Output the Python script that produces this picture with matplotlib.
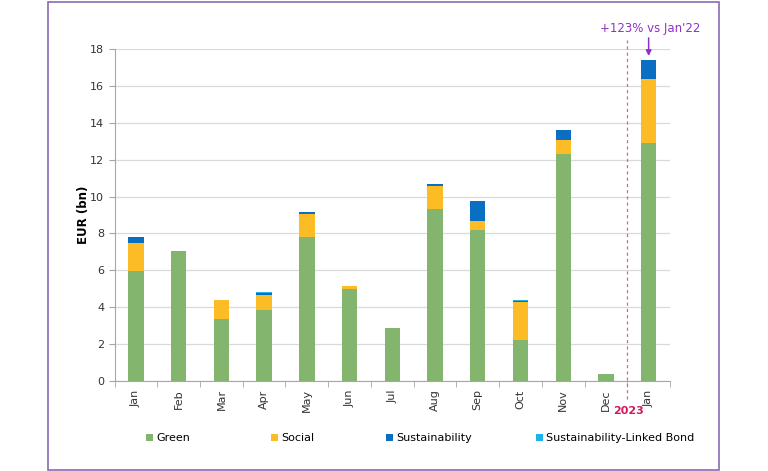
import matplotlib
matplotlib.use("Agg")
import matplotlib.pyplot as plt
import matplotlib.patches as mpatches
import numpy as np

# data (EUR bn)
months = ["Jan", "Feb", "Mar", "Apr", "May", "Jun", "Jul", "Aug", "Sep", "Oct", "Nov", "Dec", "Jan"]
green = [5.95, 7.05, 3.37, 3.85, 7.83, 4.97, 2.87, 9.35, 8.2, 2.23, 12.33, 0.4, 12.93]
social = [1.55, 0.0, 1.0, 0.82, 1.25, 0.2, 0.0, 1.22, 0.5, 2.05, 0.76, 0.0, 3.47]
sustainability = [0.3, 0.0, 0.0, 0.1, 0.07, 0.0, 0.0, 0.1, 1.05, 0.04, 0.5, 0.0, 1.0]
slb = [0.0, 0.0, 0.0, 0.03, 0.0, 0.0, 0.0, 0.02, 0.0, 0.05, 0.02, 0.0, 0.0]
series_names = ["Green", "Social", "Sustainability", "Sustainability-Linked Bond"]
annotation = "+123% vs Jan'22"
year_label = "2023"

colors = ["#84b56e", "#fbbc25", "#0a6fc2", "#1fb1ea"]

fig = plt.figure(figsize=(7.68, 4.71), dpi=100)
ax_left, ax_right, ax_bottom, ax_top = 114.6, 670, 381, 49
ax = fig.add_axes([ax_left / 768, 1 - ax_bottom / 471,
                   (ax_right - ax_left) / 768, (ax_bottom - ax_top) / 471])

x = np.arange(len(months))
bottom = np.zeros(len(months))
handles = []
for vals, col, name in zip([green, social, sustainability, slb], colors, series_names):
    b = ax.bar(x, vals, width=0.36, bottom=bottom, color=col, label=name, zorder=3)
    bottom += np.array(vals)
    handles.append(b)

ax.set_xlim(-0.5, len(months) - 0.5)
ax.set_ylim(0, 18)
ax.set_yticks(np.arange(0, 19, 2))
ax.yaxis.grid(True, color="#d9d9d9", linewidth=0.9, zorder=0)
ax.set_axisbelow(True)

ax.set_xticks(x)
ax.set_xticklabels(months, rotation=90, fontsize=8, color="#333333")
ax.set_xticks(np.arange(-0.5, len(months), 1.0), minor=True)
ax.tick_params(axis="x", which="major", length=0, pad=6)
ax.tick_params(axis="x", which="minor", length=4, color="#a6a6a6")
ax.tick_params(axis="y", labelsize=8, length=4, color="#a6a6a6", labelcolor="#333333")

for s in ["top", "right"]:
    ax.spines[s].set_visible(False)
for s in ["left", "bottom"]:
    ax.spines[s].set_color("#a6a6a6")

ax.set_ylabel("EUR (bn)", fontsize=8.5, fontweight="bold")
ax.yaxis.set_label_coords(-0.044, 0.5)

# 2023 divider
ax.plot([11.5, 11.5], [-0.95, 18.5], linestyle=(0, (2.5, 2.5)), color="#e35aa5",
        linewidth=0.9, clip_on=False, zorder=4)
ax.text(11.52, -1.62, year_label, color="#d0195f", fontsize=8, fontweight="bold",
        ha="center", va="center")

# growth annotation
ax.text(12.03, 19.09, annotation, ha="center", va="center", fontsize=8.5,
        color="#8e2fc8", clip_on=False)
ax.annotate("", xy=(12, 17.62), xytext=(12, 18.6),
            arrowprops=dict(arrowstyle="-|>", color="#8e2fc8", lw=1.1,
                            mutation_scale=8, shrinkA=0, shrinkB=0),
            annotation_clip=False)

# legend entries spread out like the reference
legend_x = [146, 271, 386, 536]
for h, name, lx in zip(handles, series_names, legend_x):
    leg = fig.legend(handles=[h], labels=[name], loc="center left",
                     bbox_to_anchor=(lx / 768, 1 - 438 / 471), frameon=False,
                     fontsize=8, handlelength=0.6, handleheight=0.6,
                     handletextpad=0.3, borderpad=0, borderaxespad=0)

# purple frame around the figure
fig.patches.append(mpatches.Rectangle((48 / 768, 1.5 / 471), 671 / 768, 467.5 / 471,
                                      transform=fig.transFigure, fill=False,
                                      edgecolor="#8a6bb0", linewidth=1.2))

fig.savefig("out.png", dpi=100)
